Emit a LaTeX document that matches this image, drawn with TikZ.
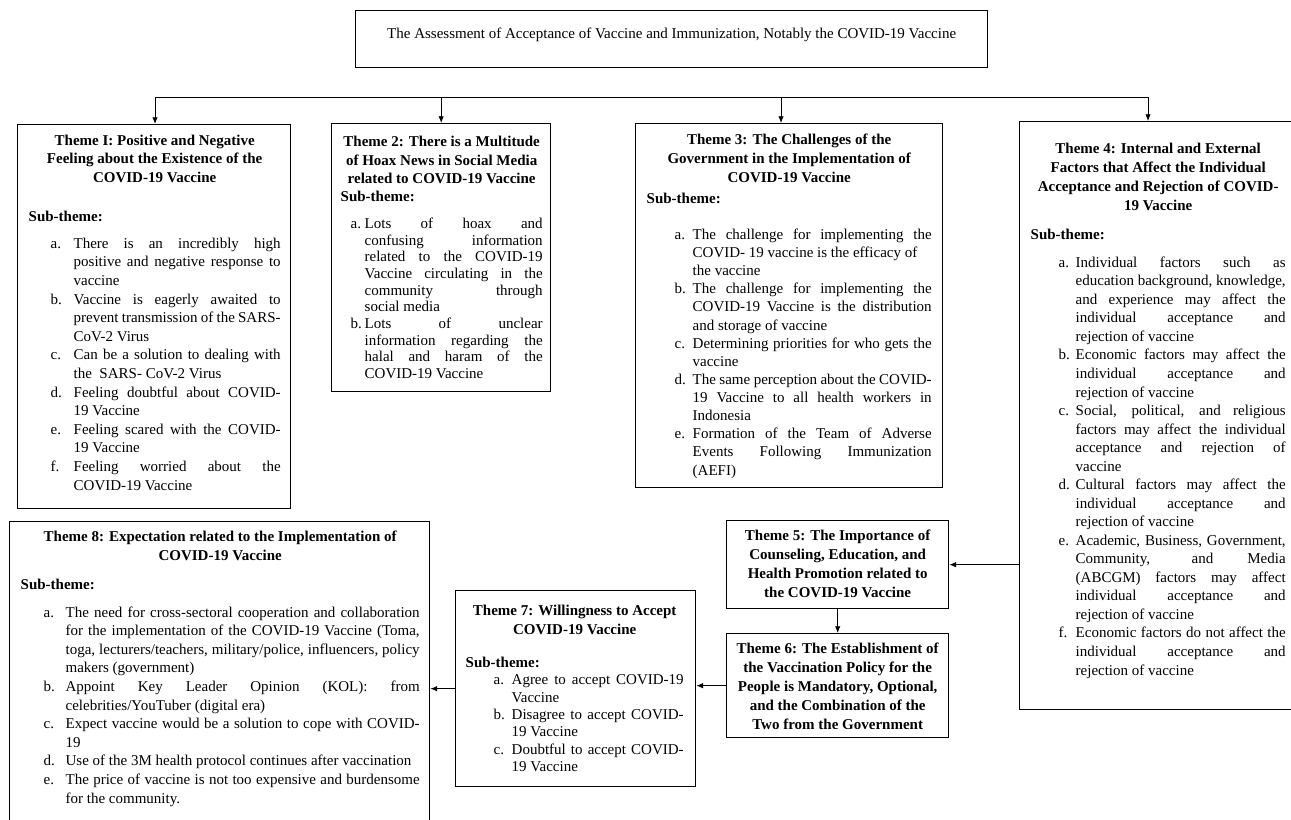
\documentclass[tikz,border=0pt]{standalone}
\usepackage{fontspec}
\setmainfont{Liberation Serif}
\usepackage{enumitem}
\usetikzlibrary{arrows.meta}

% one pixel of the layout
\newlength\pxu
\setlength\pxu{0.75pt}

\setlist[enumerate]{label=\alph*., align=left, labelwidth=12\pxu, labelsep=*,
  topsep=0pt, partopsep=0pt, itemsep=0pt, parsep=0pt, rightmargin=0pt}

% left pad, width, right pad, height, text
\newcommand{\themetext}[5]{\hspace*{#1\pxu}%
  \begin{minipage}[t][#4\pxu][t]{#2\pxu}%
  \hyphenpenalty=10000 \exhyphenpenalty=10000 \tolerance=10000 #5%
  \end{minipage}\hspace*{#3\pxu}}

\begin{document}
\begin{tikzpicture}[x=0.75pt, y=-0.75pt,
    box/.style={draw, line width=1pt, inner sep=0pt, anchor=north west},
    arr/.style={-{Latex[length=5pt,width=4pt]}, line width=0.6pt}]
    \useasboundingbox (0,0) rectangle (1291,819);

    % Title
    \node[box] (title) at (355,10) {\themetext{10}{612}{10}{57}{%
      \fontsize{11.25}{13.95}\selectfont\vspace*{10.8pt}\centering
      \strut The Assessment of Acceptance of Vaccine and Immunization, Notably the COVID-19 Vaccine}};

    % Theme 1
    \node[box] (theme1) at (17,124) {\themetext{11}{252}{10}{384}{%
      \fontsize{11.25}{13.95}\selectfont\vspace*{5.6pt}
      {\centering\bfseries\strut Theme I: Positive and Negative\\ Feeling about the Existence of the\\ COVID-19 Vaccine\par}
      \vspace{15.3pt}\textbf{Sub-theme:}\par\vspace{6.3pt}
      \begin{enumerate}[labelindent=22\pxu, leftmargin=45\pxu]
        \item There is an incredibly high\linebreak positive and negative response to\linebreak vaccine
        \item Vaccine is eagerly awaited to\linebreak prevent transmission of the SARS-\linebreak CoV-2 Virus
        \item Can be a solution to dealing with\linebreak the\ \ SARS- CoV-2 Virus
        \item Feeling doubtful about COVID-\linebreak 19 Vaccine
        \item Feeling scared with the COVID-\linebreak 19 Vaccine
        \item Feeling worried about the\linebreak COVID-19 Vaccine
      \end{enumerate}}};

    % Theme 2
    \node[box] (theme2) at (331,123) {\themetext{9}{202}{8}{268}{%
      \fontsize{11.25}{12.5}\selectfont\vspace*{7.8pt}
      {\fontsize{11.25}{13.7}\selectfont\centering\bfseries\strut Theme 2: There is a Multitude\\ of Hoax News in Social Media\\ related to COVID-19 Vaccine\par}
      \vspace{1.3pt}\textbf{Sub-theme:}\par\vspace{7.5pt}
      \begin{enumerate}[labelindent=10\pxu, leftmargin=24\pxu]
        \item Lots of hoax and\linebreak confusing information\linebreak related to the COVID-19\linebreak Vaccine circulating in the\linebreak community through\linebreak social media
        \item Lots of unclear\linebreak information regarding the\linebreak halal and haram of the\linebreak COVID-19 Vaccine
      \end{enumerate}}};

    % Theme 3
    \node[box] (theme3) at (635,123) {\themetext{11}{285}{11}{364}{%
      \fontsize{11.25}{13.6}\selectfont\vspace*{5.6pt}
      {\fontsize{11.25}{14.25}\selectfont\centering\bfseries\strut Theme 3: The Challenges of the\\ Government in the Implementation of\\ COVID-19 Vaccine\par}
      \vspace{2.1pt}\textbf{Sub-theme:}\par\vspace{13.4pt}
      \begin{enumerate}[labelindent=28\pxu, leftmargin=46\pxu]
        \item The challenge for implementing the\linebreak COVID- 19 vaccine is the efficacy of\newline the vaccine
        \item The challenge for implementing the\linebreak COVID-19 Vaccine is the distribution\linebreak and storage of vaccine
        \item Determining priorities for who gets the\linebreak vaccine
        \item The same perception about the COVID-\linebreak 19 Vaccine to all health workers in\linebreak Indonesia
        \item Formation of the Team of Adverse\linebreak Events Following Immunization\linebreak (AEFI)
      \end{enumerate}}};

    % Theme 4 (its right side runs past the page)
    \node[box] (theme4) at (1019,121) {\themetext{11}{255}{10}{588}{%
      \fontsize{11.25}{13.9}\selectfont\vspace*{13.6pt}
      {\fontsize{11.25}{14.25}\selectfont\centering\bfseries\strut Theme 4: Internal and External\\ Factors that Affect the Individual\\ Acceptance and Rejection of COVID-\\ 19 Vaccine\par}
      \vspace{8pt}\textbf{Sub-theme:}\par\vspace{7.1pt}
      \begin{enumerate}[labelindent=28\pxu, leftmargin=45\pxu]
        \item Individual factors such as\linebreak education background, knowledge,\linebreak and experience may affect the\linebreak individual acceptance and\linebreak rejection of vaccine
        \item Economic factors may affect the\linebreak individual acceptance and\linebreak rejection of vaccine
        \item Social, political, and religious\linebreak factors may affect the individual\linebreak acceptance and rejection of\linebreak vaccine
        \item Cultural factors may affect the\linebreak individual acceptance and\linebreak rejection of vaccine
        \item Academic, Business, Government,\linebreak Community, and Media\linebreak (ABCGM) factors may affect\linebreak individual acceptance and\linebreak rejection of vaccine
        \item Economic factors do not affect the\linebreak individual acceptance and\linebreak rejection of vaccine
      \end{enumerate}}};

    % Theme 5 and Theme 6
    \node[box] (theme5) at (726,520) {\themetext{5}{212}{5}{88}{%
      \fontsize{11.25}{14.25}\selectfont\vspace*{4.6pt}\centering\bfseries
      \strut Theme 5: The Importance of\\ Counseling, Education, and\\ Health Promotion related to\\ the COVID-19 Vaccine}};
    \node[box] (theme6) at (726,633) {\themetext{5}{212}{5}{104}{%
      \fontsize{11.25}{14.25}\selectfont\vspace*{4.9pt}\centering\bfseries
      \strut Theme 6: The Establishment of\\ the Vaccination Policy for the\\ People is Mandatory, Optional,\\ and the Combination of the\\ Two from the Government}};

    % Theme 7
    \node[box] (theme7) at (455,590) {\themetext{10}{218}{12}{196}{%
      \fontsize{11.25}{13.1}\selectfont\vspace*{9.3pt}
      {\fontsize{11.25}{13.7}\selectfont\centering\bfseries\strut Theme 7: Willingness to Accept\\ COVID-19 Vaccine\par}
      \vspace{11.6pt}\textbf{Sub-theme:}\par
      \begin{enumerate}[labelindent=28\pxu, leftmargin=46\pxu]
        \item Agree to accept COVID-19\linebreak Vaccine
        \item Disagree to accept COVID-\linebreak 19 Vaccine
        \item Doubtful to accept COVID-\linebreak 19 Vaccine
      \end{enumerate}}};

    % Theme 8 (its bottom runs past the page)
    \node[box] (theme8) at (9,521) {\themetext{11}{399}{10}{310}{%
      \fontsize{11.25}{13.95}\selectfont\vspace*{4.6pt}
      {\fontsize{11.25}{14.25}\selectfont\centering\bfseries\strut Theme 8: Expectation related to the Implementation of\\ COVID-19 Vaccine\par}
      \vspace{7.8pt}\textbf{Sub-theme:}\par\vspace{7.05pt}
      \begin{enumerate}[labelindent=23\pxu, leftmargin=45\pxu]
        \item The need for cross-sectoral cooperation and collaboration\linebreak for the implementation of the COVID-19 Vaccine (Toma,\linebreak toga, lecturers/teachers, military/police, influencers, policy\linebreak makers (government)
        \item Appoint Key Leader Opinion (KOL): from\linebreak celebrities/YouTuber (digital era)
        \item Expect vaccine would be a solution to cope with COVID-\linebreak 19
        \item Use of the 3M health protocol continues after vaccination
        \item The price of vaccine is not too expensive and burdensome\linebreak for the community.
      \end{enumerate}}};

    % Line across the top and its arrows
    \coordinate (busL) at (155,97);
    \coordinate (busR) at (1148,97);
    \coordinate (tap3) at (781,97);
    \draw[line width=0.7pt] (busL) -- (busR);
    \draw[arr] (busL) -- (busL |- theme1.north);
    \draw[arr] (theme2.north |- busL) -- (theme2.north);
    \draw[arr] (tap3) -- (tap3 |- theme3.north);
    \draw[arr] (busR) -- (busR |- theme4.north);

    % Arrows between the lower themes
    \draw[arr] (theme4.west |- theme5.east) -- (theme5.east);
    \draw[arr] (theme5.south) -- (theme6.north);
    \draw[arr] (theme6.west) -- (theme6.west -| theme7.east);
    \draw[arr] (theme7.west) -- (theme7.west -| theme8.east);
\end{tikzpicture}
\end{document}
